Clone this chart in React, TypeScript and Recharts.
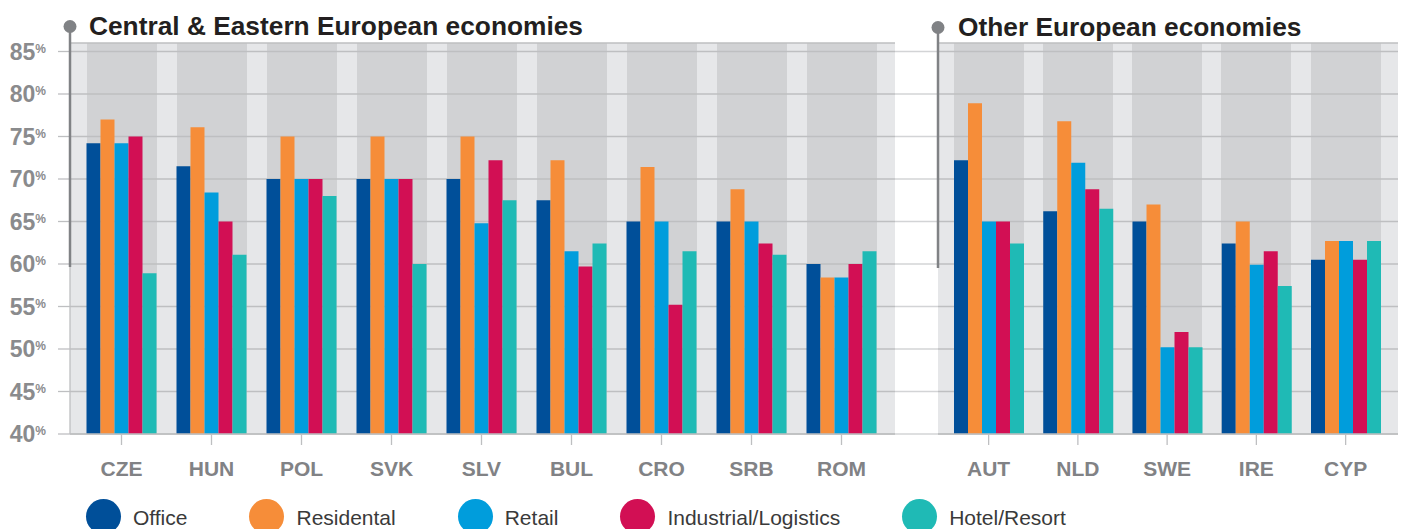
import { Bar, BarChart, CartesianGrid, XAxis, YAxis } from "recharts"

const ceeCountries = ["CZE", "HUN", "POL", "SVK", "SLV", "BUL", "CRO", "SRB", "ROM"]
const ceeOffice = [74.2, 71.5, 70, 70, 70, 67.5, 65, 65, 60]
const ceeResidential = [77, 76.1, 75, 75, 75, 72.2, 71.4, 68.8, 58.4]
const ceeRetail = [74.2, 68.4, 70, 70, 64.8, 61.5, 65, 65, 58.4]
const ceeIndustrial = [75, 65, 70, 70, 72.2, 59.7, 55.2, 62.4, 60]
const ceeHotel = [58.9, 61.1, 68, 60, 67.5, 62.4, 61.5, 61.1, 61.5]

const otherCountries = ["AUT", "NLD", "SWE", "IRE", "CYP"]
const otherOffice = [72.2, 66.2, 65, 62.4, 60.5]
const otherResidential = [78.9, 76.8, 67, 65, 62.7]
const otherRetail = [65, 71.9, 50.2, 59.9, 62.7]
const otherIndustrial = [65, 68.8, 52, 61.5, 60.5]
const otherHotel = [62.4, 66.5, 50.2, 57.4, 62.7]

const yTicks = [40, 45, 50, 55, 60, 65, 70, 75, 80, 85]

const series = [
  { key: "office", name: "Office", color: "#004f99" },
  { key: "residential", name: "Residental", color: "#f68d39" },
  { key: "retail", name: "Retail", color: "#009ddc" },
  { key: "industrial", name: "Industrial/Logistics", color: "#d20f54" },
  { key: "hotel", name: "Hotel/Resort", color: "#1fbab5" },
]

const FONT = "'Liberation Sans', Arial, sans-serif"
const BAR = 14
const LIGHT = "#e6e7e9"
const DARK = "#d1d2d4"
const GRID = "#bebfc1"
const AXIS_TEXT = "#818285"

function buildRows(countries: string[], cols: number[][]) {
  return countries.map((country, i) => {
    const row: Record<string, string | number> = { country }
    series.forEach((s, j) => {
      row[s.key] = cols[j][i]
    })
    return row
  })
}

const ceeData = buildRows(ceeCountries, [ceeOffice, ceeResidential, ceeRetail, ceeIndustrial, ceeHotel])
const otherData = buildRows(otherCountries, [otherOffice, otherResidential, otherRetail, otherIndustrial, otherHotel])

// band centres from the x scale (works with a plain d3 band scale or recharts' wrapper)
function bandCentres(s: any): number[] {
  const out: number[] = []
  if (!s) return out
  const range: number[] = typeof s.range === "function" ? s.range() : []
  const dom: any[] = typeof s.domain === "function" ? s.domain() : []
  const n = dom.length
  const bw = typeof s.bandwidth === "function" ? s.bandwidth() : 0
  for (let i = 0; i < n; i++) {
    let pos: number | undefined
    try {
      if (typeof s === "function") pos = s(dom[i])
      else if (typeof s.map === "function") pos = s.map(dom[i])
    } catch (e) {
      pos = undefined
    }
    if (typeof pos === "number" && !isNaN(pos)) out.push(pos + bw / 2)
    else if (range.length === 2) {
      const step = (range[1] - range[0]) / n
      out.push(range[0] + step * (i + 0.5))
    }
  }
  return out
}

// stripe edges: plot left, then each category's dark band, then plot right
const bandEdges = (props: any) => {
  const { xAxis, offset } = props
  const pts: number[] = [offset.left]
  const half = (BAR * series.length) / 2
  bandCentres(xAxis?.scale).forEach((mid) => {
    pts.push(mid - half, mid + half)
  })
  pts.push(offset.left + offset.width)
  return pts
}

const PctTick = (props: any) => {
  const { x, y, payload } = props
  return (
    <text x={x} y={y} textAnchor="end" fill="#8a8b8d" fontFamily={FONT} fontWeight="bold">
      <tspan fontSize={23} dy={8}>{payload.value}</tspan>
      <tspan fontSize={12} dy={-7}>%</tspan>
    </text>
  )
}

const EmptyTick = () => <g />

function Panel({ data, width, padLeft, padRight, yWidth, rightMargin, showLabels }: any) {
  return (
    <BarChart
      width={width}
      height={529}
      data={data}
      margin={{ top: 43, right: rightMargin, bottom: 0, left: 0 }}
      barGap={0}
      barSize={BAR}
    >
      <CartesianGrid
        horizontal={false}
        stroke="none"
        fill={LIGHT}
        fillOpacity={1}
        verticalFill={[LIGHT, DARK]}
        verticalCoordinatesGenerator={bandEdges}
      />
      <CartesianGrid vertical={false} stroke={GRID} strokeWidth={1.3} />
      <XAxis
        dataKey="country"
        height={95}
        padding={{ left: padLeft, right: padRight }}
        tickSize={11}
        tickMargin={16}
        axisLine={{ stroke: GRID, strokeWidth: 1.5 }}
        tickLine={{ stroke: GRID, strokeWidth: 1.3 }}
        tick={{ fill: AXIS_TEXT, fontSize: 21, fontWeight: "bold", fontFamily: FONT }}
        interval={0}
      />
      <YAxis
        type="number"
        domain={[40, 86]}
        ticks={yTicks}
        allowDataOverflow
        width={yWidth}
        tickSize={showLabels ? 12 : yWidth - 15}
        tickMargin={12}
        axisLine={showLabels ? { stroke: GRID, strokeWidth: 1.3 } : false}
        tickLine={{ stroke: showLabels ? GRID : "#d3d4d6", strokeWidth: 1.3 }}
        tick={showLabels ? PctTick : EmptyTick}
      />
      {series.map((s) => (
        <Bar key={s.key} dataKey={s.key} name={s.name} fill={s.color} isAnimationActive={false} />
      ))}
    </BarChart>
  )
}

export default function App() {
  return (
    <div
      style={{
        position: "absolute",
        left: 0,
        top: 0,
        width: 1409,
        height: 529,
        background: "#fff",
        overflow: "hidden",
        fontFamily: FONT,
      }}
    >
      <div style={{ position: "absolute", left: 0, top: 0 }}>
        <Panel data={ceeData} width={900} padLeft={6.5} padRight={8.5} yWidth={70} rightMargin={5} showLabels />
      </div>
      <div style={{ position: "absolute", left: 880, top: 0 }}>
        <Panel data={otherData} width={529} padLeft={6} padRight={7.75} yWidth={58} rightMargin={11} showLabels={false} />
      </div>

      <svg width={1409} height={529} style={{ position: "absolute", left: 0, top: 0, pointerEvents: "none" }}>
        <line x1={70} y1={27} x2={70} y2={267} stroke="#808285" strokeWidth={2.5} />
        <circle cx={70} cy={26.5} r={6.5} fill="#808285" />
        <text x={89} y={35} fontFamily={FONT} fontWeight="bold" fontSize={26.3} fill="#231f20">
          Central &amp; Eastern European economies
        </text>
        <line x1={938} y1={28} x2={938} y2={268} stroke="#808285" strokeWidth={2.5} />
        <circle cx={938} cy={27.5} r={6.5} fill="#808285" />
        <text x={958} y={36} fontFamily={FONT} fontWeight="bold" fontSize={26.3} fill="#231f20">
          Other European economies
        </text>
      </svg>

      <div style={{ position: "absolute", left: 86, top: 498, display: "flex", alignItems: "center" }}>
        {series.map((s) => (
          <div key={s.key} style={{ display: "flex", alignItems: "center", marginRight: 62 }}>
            <div style={{ width: 35, height: 35, borderRadius: "50%", background: s.color, marginRight: 12 }} />
            <span style={{ fontSize: 21, color: "#3a3a3a", lineHeight: "35px", paddingTop: 2 }}>{s.name}</span>
          </div>
        ))}
      </div>
    </div>
  )
}
